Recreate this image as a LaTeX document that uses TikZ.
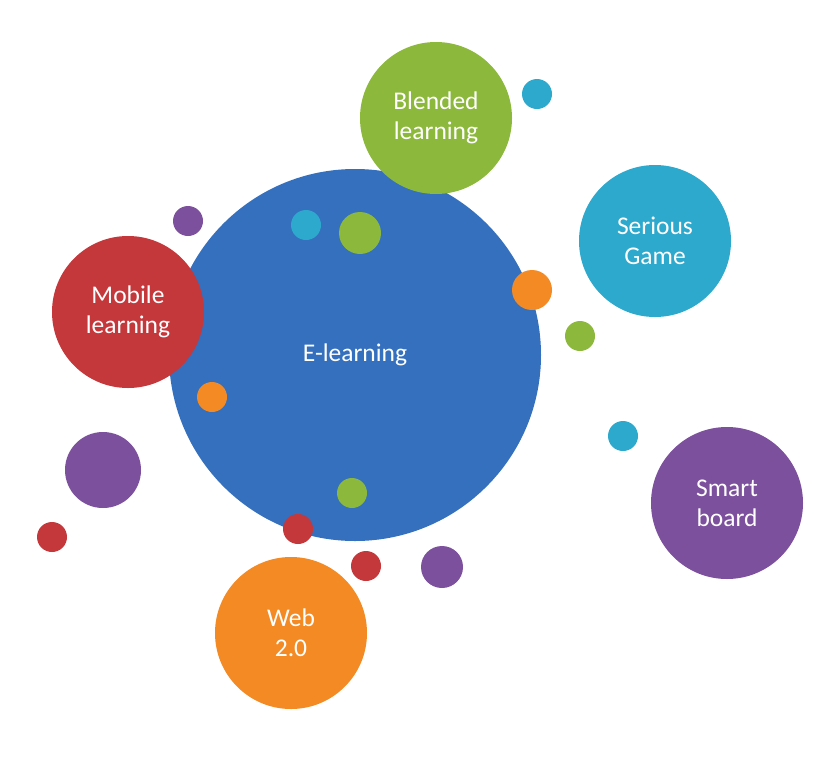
\documentclass[tikz,border=0pt]{standalone}
\usepackage{fontspec}
\setmainfont{Carlito}
\begin{document}
\begin{tikzpicture}[x=1pt,y=-1pt,
  big/.style={circle,inner sep=0pt,text=white,font=\fontsize{25.5}{30}\selectfont,align=center},
  dot/.style={circle,inner sep=0pt}]
\definecolor{cblue}{HTML}{3470BD}
\definecolor{cgreen}{HTML}{8CB83C}
\definecolor{cteal}{HTML}{2EA9CE}
\definecolor{cred}{HTML}{C4373A}
\definecolor{cpurple}{HTML}{7D509E}
\definecolor{corange}{HTML}{F48A24}
\useasboundingbox (0,0) rectangle (840,758);
\fill[white] (0,0) rectangle (840,758);
\node[big,fill=cblue,minimum size=372pt] (el) at (355,355) {E-learning};
\node[big,fill=cgreen,minimum size=152pt] (bl) at (436,118) {Blended\\learning};
\node[big,fill=cteal,minimum size=152pt] (sg) at (655,241) {Serious\\Game};
\node[big,fill=cred,minimum size=152pt] (ml) at (128,312) {Mobile\\learning};
\node[big,fill=cpurple,minimum size=152pt] (sb) at (727,503) {Smart\\board};
\node[big,fill=corange,minimum size=152pt] (web) at (291,633) {Web\\2.0};
\node[dot,fill=cteal,minimum size=30pt] (d1) at (537,94) {};
\node[dot,fill=cpurple,minimum size=30pt] (d2) at (188,221) {};
\node[dot,fill=cteal,minimum size=30pt] (d3) at (306,225) {};
\node[dot,fill=cgreen,minimum size=42pt] (d4) at (360,233) {};
\node[dot,fill=corange,minimum size=40pt] (d5) at (532,290) {};
\node[dot,fill=cgreen,minimum size=30pt] (d6) at (580,336) {};
\node[dot,fill=corange,minimum size=30pt] (d7) at (212,397) {};
\node[dot,fill=cteal,minimum size=30pt] (d8) at (623,436) {};
\node[dot,fill=cpurple,minimum size=76pt] (d9) at (103,470) {};
\node[dot,fill=cgreen,minimum size=30pt] (d10) at (352,493) {};
\node[dot,fill=cred,minimum size=30pt] (d11) at (298,529) {};
\node[dot,fill=cred,minimum size=30pt] (d12) at (52,537) {};
\node[dot,fill=cred,minimum size=30pt] (d13) at (366,566) {};
\node[dot,fill=cpurple,minimum size=42pt] (d14) at (442,567) {};
\end{tikzpicture}
\end{document}
